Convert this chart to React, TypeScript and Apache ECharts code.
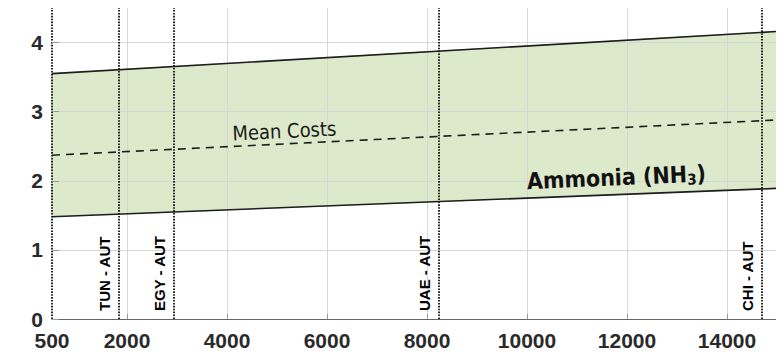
import React, { useEffect, useRef } from "react";
import * as echarts from "echarts";

// Transport distance (km) at the two ends of the cost band
const distanceKm = [500, 15000];
// Cost band for ammonia delivery
const upperCost = [3.55, 4.16];
const lowerCost = [1.48, 1.89];
const meanCost = [2.37, 2.88];

// Supply routes and their distances
const routeNames = ["TUN - AUT", "EGY - AUT", "UAE - AUT", "CHI - AUT"];
const routeDistances = [1840, 2930, 8230, 14690];

// Axis ticks
const xTickValues = [2000, 4000, 6000, 8000, 10000, 12000, 14000];
const xLabelValues = [500, 2000, 4000, 6000, 8000, 10000, 12000, 14000];
const yTickValues = [0, 1, 2, 3, 4];

// Text placed along the band
const meanLabel = { text: "Mean Costs", x: 5146, y: 2.72 };
const bandLabel = { text: "Ammonia (NH{sub|3})", x: 11786, y: 2.05 };

const INK = "#1e1e1e";
const AXIS_FONT = "'Liberation Sans', Arial, sans-serif";
const NOTE_FONT = "'DejaVu Sans Condensed', 'DejaVu Sans', sans-serif";

export default function App() {
  const ref = useRef<HTMLDivElement>(null);

  useEffect(() => {
    if (!ref.current) return;
    const chart = echarts.init(ref.current, undefined, { renderer: "svg" });

    const pair = (ys: number[]) => distanceKm.map((x, i) => [x, ys[i]]);

    const option: echarts.EChartsOption = {
      animation: false,
      grid: { left: 52, right: 7, top: 8, bottom: 35, containLabel: false },
      xAxis: {
        type: "value",
        min: 500,
        max: 15000,
        z: 5,
        axisLine: { show: true, lineStyle: { color: "#666", width: 1 } },
        axisTick: {
          show: true,
          inside: true,
          length: 5,
          customValues: xTickValues,
          lineStyle: { color: "#999" },
        },
        axisLabel: {
          customValues: xLabelValues,
          formatter: (v: number) => String(v),
          margin: 11,
          fontFamily: AXIS_FONT,
          fontWeight: "bold",
          fontSize: 21,
          color: "#2a2a2a",
        },
        splitLine: { show: true, lineStyle: { color: "#d6d6d6", width: 1 } },
      },
      yAxis: {
        type: "value",
        min: 0,
        max: 4.5,
        z: 5,
        axisLine: { show: false },
        axisTick: {
          show: true,
          inside: true,
          length: 7,
          customValues: yTickValues,
          lineStyle: { color: "#999" },
        },
        axisLabel: {
          customValues: yTickValues,
          margin: 9,
          fontFamily: AXIS_FONT,
          fontWeight: "bold",
          fontSize: 21,
          color: "#2a2a2a",
        },
        splitLine: { show: true, lineStyle: { color: "#d6d6d6", width: 1 } },
      },
      series: [
        {
          // shaded band between the lower and upper cost lines
          type: "custom",
          z: 1,
          silent: true,
          data: [0],
          renderItem: (_params: any, api: any) => {
            const top = distanceKm.map((x, i) => api.coord([x, upperCost[i]]));
            const bottom = distanceKm
              .map((x, i) => api.coord([x, lowerCost[i]]))
              .reverse();
            return {
              type: "polygon",
              shape: { points: [...top, ...bottom] },
              style: { fill: "#dde9cb", stroke: "#c9d3bd", lineWidth: 1 },
            };
          },
        },
        {
          type: "line",
          z: 6,
          data: pair(upperCost),
          symbol: "none",
          lineStyle: { color: INK, width: 1.6 },
        },
        {
          type: "line",
          z: 6,
          data: pair(lowerCost),
          symbol: "none",
          lineStyle: { color: INK, width: 1.6 },
          markPoint: {
            symbol: "circle",
            symbolSize: 0,
            silent: true,
            data: [
              {
                coord: [bandLabel.x, bandLabel.y],
                label: {
                  show: true,
                  position: "inside",
                  rotate: 2.5,
                  formatter: bandLabel.text,
                  fontFamily: NOTE_FONT,
                  fontWeight: "bold",
                  fontSize: 23,
                  color: "#111",
                  rich: {
                    sub: {
                      fontFamily: NOTE_FONT,
                      fontWeight: "bold",
                      fontSize: 15,
                      color: "#111",
                      padding: [11, 0, 0, 0],
                    },
                  },
                },
              },
            ],
          },
        },
        {
          type: "line",
          z: 6,
          data: pair(meanCost),
          symbol: "none",
          lineStyle: { color: INK, width: 1.6, type: [8, 6] },
          markPoint: {
            symbol: "circle",
            symbolSize: 0,
            silent: true,
            data: [
              {
                coord: [meanLabel.x, meanLabel.y],
                label: {
                  show: true,
                  position: "inside",
                  rotate: 2.8,
                  formatter: meanLabel.text,
                  fontFamily: NOTE_FONT,
                  fontSize: 20,
                  color: "#1a1a1a",
                },
              },
            ],
          },
          markLine: {
            silent: true,
            symbol: ["none", "none"],
            lineStyle: { color: "#111", width: 1.8, type: [1.6, 1.3] },
            data: [
              { xAxis: 500, label: { show: false } },
              ...routeNames.map((name, i) => ({
                xAxis: routeDistances[i],
                label: {
                  show: true,
                  formatter: name,
                  position: "insideStartTop" as const,
                  distance: [8, 7],
                  fontFamily: AXIS_FONT,
                  fontWeight: "bold" as const,
                  fontSize: 15,
                  color: "#000",
                },
              })),
            ],
          },
        },
      ],
    };

    chart.setOption(option);
    return () => chart.dispose();
  }, []);

  return <div ref={ref} style={{ width: 784, height: 354, marginLeft: -8, marginTop: -8 }} />;
}
